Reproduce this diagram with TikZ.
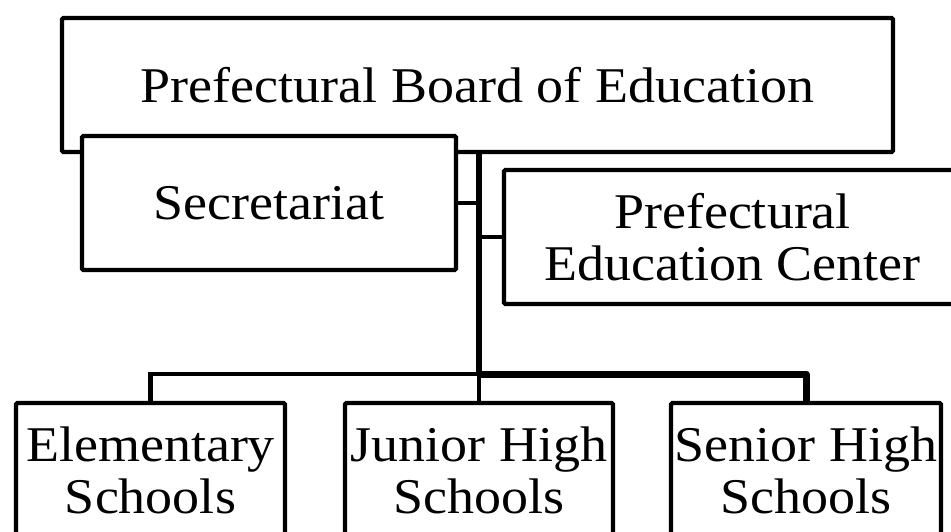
\documentclass[tikz,border=0pt]{standalone}
\usepackage{fontspec}
\setmainfont[FakeStretch=1.08]{Liberation Serif}
\begin{document}
\begin{tikzpicture}[x=1pt,y=-1pt,
  box/.style={draw=black, fill=white, line width=4.3pt, rounded corners=1.5pt,
    align=center, inner sep=0pt, font=\fontsize{50}{52}\selectfont},
  conn/.style={draw=black, line width=4.5pt},
  thickconn/.style={draw=black, line width=7pt, line join=round}]
\clip (0,0) rectangle (951,531);
\fill[white] (0,0) rectangle (951,531);
% top board
\node[box, minimum width=831pt, minimum height=134pt] (top) at (477.5,85) {Prefectural Board of Education};
\coordinate (bus) at (479,374);
\coordinate (trunktop) at (479,152);
% bottom boxes
\node[box, minimum width=269pt, minimum height=134pt] (el) at (150.5,470) {Elementary\\Schools};
\node[box, minimum width=268pt, minimum height=134pt] (jr) at (479,470) {Junior High\\Schools};
\node[box, minimum width=270pt, minimum height=134pt] (sr) at (806,470) {Senior High\\Schools};
% connectors
\draw[conn] (el.north) |- (bus);
\draw[conn] (bus) -- (jr.north);
\draw[thickconn] (bus) -| (sr.north);
\draw[line width=6.5pt] (trunktop) -- (bus);
% side boxes
\node[box, minimum width=374pt, minimum height=134pt] (sec) at (269,203) {Secretariat};
\node[box, minimum width=457pt, minimum height=134pt] (pec) at (732.5,237) {Prefectural\\Education Center};
\draw[conn, line width=4pt] (sec.east) -- (sec.east -| trunktop);
\draw[conn, line width=4pt] (pec.west) -- (pec.west -| trunktop);
\end{tikzpicture}
\end{document}
